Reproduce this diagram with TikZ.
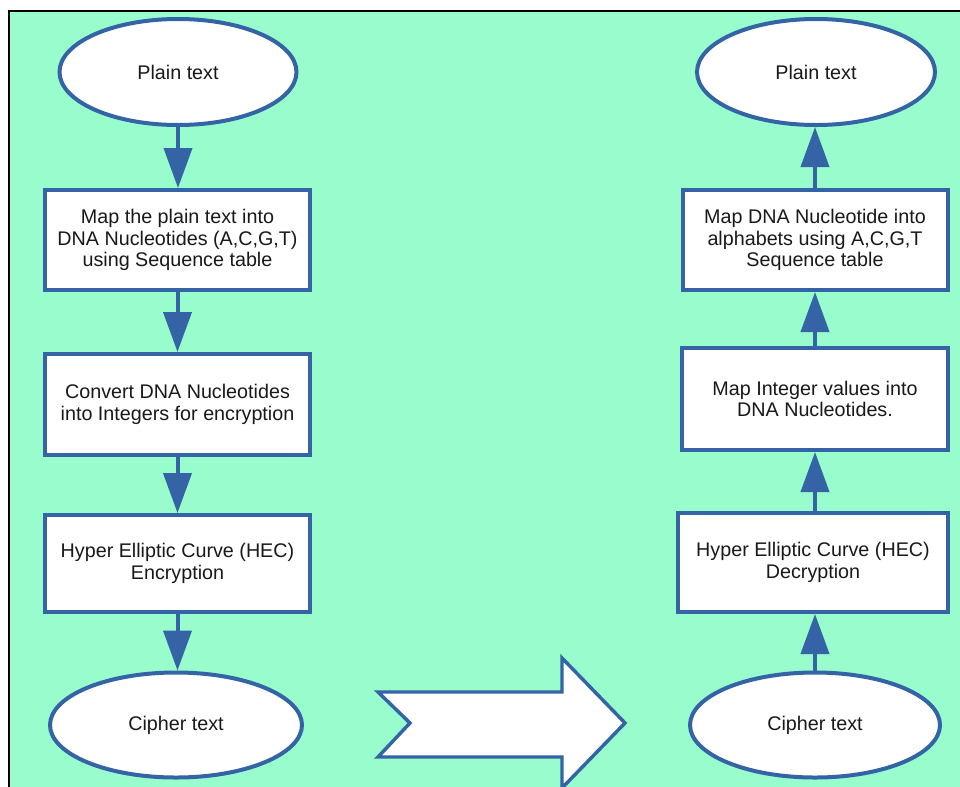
\documentclass[tikz,border=0pt]{standalone}
\usepackage{fontspec}
\setmainfont{Liberation Sans}
\usetikzlibrary{arrows.meta,shapes.geometric}
\definecolor{bggreen}{RGB}{153,252,204}
\definecolor{lineblue}{RGB}{52,100,166}
\definecolor{txt}{RGB}{25,25,25}
\tikzset{
  box/.style={draw=lineblue, line width=3pt, fill=white, rectangle, align=center,
    text=txt, font=\fontsize{14.8}{16}\selectfont, inner sep=0pt},
  oval/.style={draw=lineblue, line width=3pt, fill=white, ellipse, align=center,
    text=txt, font=\fontsize{14.8}{16}\selectfont, inner sep=0pt},
  flow/.style={draw=lineblue, line width=3pt, -{Triangle[width=21pt,length=30pt]}, color=lineblue},
}
\begin{document}
\begin{tikzpicture}[x=0.75pt,y=-0.75pt]
\useasboundingbox (0,0) rectangle (960,786);
\fill[white] (0,0) rectangle (960,786);
\fill[bggreen] (9,11) rectangle (962,788);
\draw[black, line width=1.6pt] (9,788) -- (9,11) -- (962,11);

% left column
\node[oval, minimum width=177.75pt, minimum height=79.5pt] (p1) at (178,72) {Plain text};
\node[box, minimum width=198.75pt, minimum height=75pt] (b1) at (177.5,240)
  {Map the plain text into\\DNA Nucleotides (A,C,G,T)\\using Sequence table};
\node[box, minimum width=198.75pt, minimum height=75.75pt] (b2) at (177.5,404.5)
  {Convert DNA Nucleotides\\into Integers for encryption};
\node[box, minimum width=198.75pt, minimum height=72.75pt] (b3) at (177.5,563.5)
  {Hyper Elliptic Curve (HEC)\\Encryption};
\node[oval, minimum width=189pt, minimum height=78.75pt] (c1) at (176,725) {Cipher text};

\draw[flow] (p1.south) -- (p1.south |- b1.north);
\draw[flow] (b1.south) -- (b1.south |- b2.north);
\draw[flow] (b2.south) -- (b2.south |- b3.north);
\draw[flow] (b3.south) -- (b3.south |- c1.north);

% right column
\node[oval, minimum width=178.5pt, minimum height=79.5pt] (p2) at (816,72) {Plain text};
\node[box, minimum width=198.75pt, minimum height=75pt] (r1) at (815,240)
  {Map DNA Nucleotide into\\alphabets using A,C,G,T\\Sequence table};
\node[box, minimum width=199.5pt, minimum height=76.5pt] (r2) at (815,399)
  {Map Integer values into\\DNA Nucleotides.};
\node[box, minimum width=202.5pt, minimum height=74.25pt] (r3) at (813,562.5)
  {Hyper Elliptic Curve (HEC)\\Decryption};
\node[oval, minimum width=187.5pt, minimum height=78.75pt] (c2) at (815,725) {Cipher text};

\draw[flow] (c2.north) -- (c2.north |- r3.south);
\draw[flow] (c2.north |- r3.north) -- (c2.north |- r2.south);
\draw[flow] (r2.north) -- (r2.north |- r1.south);
\draw[flow] (r1.north) -- (r1.north |- p2.south);

% big arrow
\draw[draw=lineblue, line width=2.6pt, fill=white, line join=miter]
  (378,692) -- (562,692) -- (562,658) -- (625,723) -- (562,788) -- (562,757)
  -- (378,757) -- (410,723) -- cycle;
\end{tikzpicture}
\end{document}
